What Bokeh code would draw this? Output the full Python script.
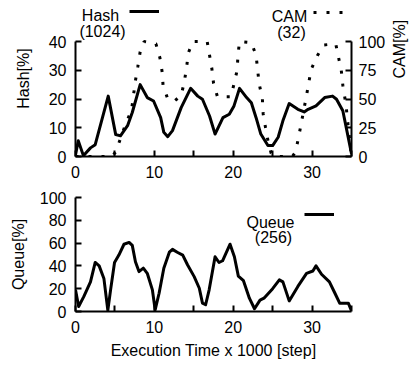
import math
from bokeh.plotting import figure
from bokeh.models import LinearAxis, Range1d, FixedTicker, Label, Legend, LegendItem
from bokeh.layouts import column
from bokeh.embed import file_html
from bokeh.resources import INLINE

# ---------------- data ----------------
hash_x = [0, 0.35, 1.0, 1.9, 2.5, 4.15, 5.1, 5.7, 6.6, 7.2, 8.2, 9.1, 9.9, 10.8, 11.2,
          11.7, 12.3, 13.4, 14.6, 15.5, 16.1, 17.0, 17.7, 18.7, 19.5, 20.1, 20.8, 21.7,
          22.3, 22.9, 23.5, 24.4, 25.0, 25.7, 26.3, 27.1, 28.2, 29.0, 29.5, 30.5, 31.6,
          32.6, 33.1, 33.9, 35.0]
hash_y = [0.5, 5.5, 0.3, 3.0, 4.1, 21.0, 7.6, 7.2, 10.7, 15.3, 25.0, 20.5, 19.3, 13.5, 8.4,
          6.9, 9.0, 17.0, 23.7, 21.0, 19.9, 14.1, 7.8, 13.5, 14.7, 17.6, 23.7, 20.5,
          18.7, 13.5, 7.8, 3.8, 3.8, 6.7, 12.4, 18.4, 16.4, 15.5, 16.4, 17.6, 20.5,
          21.0, 19.9, 15.9, 1.0]

cam_x = [0, 4.6, 5.1, 6.4, 7.1, 7.6, 7.9, 8.2, 8.7, 10.2, 10.7, 11.0, 11.1, 11.7, 12.5,
         13.4, 13.8, 14.1, 14.3, 14.9, 16.7, 17.0, 17.3, 17.5, 18.0, 19.7, 20.1, 20.5,
         20.6, 20.8, 22.3, 22.9, 23.1, 23.3, 23.7, 23.8, 24.1, 24.4, 24.8, 25.2, 27.5,
         27.9, 28.3, 28.6, 29.3, 29.6, 29.9, 30.7, 31.5, 33.0, 33.3, 33.7, 33.9, 34.3,
         34.6, 35.0]
cam_y = [0, 0, 4, 29, 40, 66, 78, 91, 100, 98, 86, 73, 62, 50, 48,
         53, 65, 78, 90, 100, 100, 88, 76, 64, 52, 52, 63, 75,
         88, 100, 99, 88, 75, 63, 50, 37, 25, 14, 3, 0, 0,
         4, 17, 28, 53, 65, 76, 88, 97, 98, 88, 75, 62, 45,
         25, 0]

queue_x = [0, 0.4, 1.05, 1.9, 2.5, 3.0, 3.6, 4.1, 4.45, 4.95, 5.5, 6.15, 6.8, 7.2, 7.6,
           8.05, 8.6, 9.1, 9.75, 10.1, 10.6, 11.2, 11.9, 12.3, 12.9, 13.6, 14.2, 15.05,
           15.7, 16.1, 16.5, 16.95, 17.7, 18.2, 18.65, 19.6, 20.15, 20.65, 21.3, 22.05,
           22.7, 23.4, 23.9, 25.0, 25.85, 26.3, 27.1, 28.2, 29.3, 30.1, 30.5, 31.2, 32.2,
           32.9, 33.5, 34.6, 35.0]
queue_y = [19, 4.4, 13, 26, 43, 40, 29, 1, 19, 43, 49.5, 59, 60.6, 58, 43.7,
           35, 38, 33.5, 19, 1.5, 16, 38, 52, 54.5, 52, 49.5, 41, 30.6,
           20.4, 7.3, 5.9, 19, 48, 43, 44.5, 59, 48, 31, 27, 11.7,
           2.4, 10, 11.7, 20, 27.7, 26, 9.3, 22, 33.5, 35.5, 40, 32.7, 26,
           16, 7.3, 7.3, 0.6]

x_ticks = [0, 10, 20, 30]
x_minor = [5, 15, 25, 35]
hash_ticks = [0, 10, 20, 30, 40]
cam_ticks = [0, 25, 50, 75, 100]
queue_ticks = [0, 20, 40, 60, 80, 100]
HASH_MAX = 40
CAM_MAX = 100

FONT = "Liberation Sans"
FS = "16px"

# top frame is taller than the 0..40 axis so that the key fits inside it
TOP_FRAME_H = 156
AXIS_H = 115
top_scale = TOP_FRAME_H / AXIS_H


def style_axis(ax, ticks, minor=None, standoff=10, label_standoff=10):
    ax.ticker = FixedTicker(ticks=ticks, minor_ticks=minor or [])
    ax.axis_line_width = 2
    ax.axis_line_color = "black"
    ax.major_tick_in = 6
    ax.major_tick_out = 0
    ax.minor_tick_in = 6 if minor else 0
    ax.minor_tick_out = 0
    ax.major_tick_line_width = 2
    ax.minor_tick_line_width = 2
    ax.major_tick_line_color = "black"
    ax.minor_tick_line_color = "black"
    ax.major_label_text_font = FONT
    ax.major_label_text_font_size = FS
    ax.major_label_text_color = "black"
    ax.major_label_standoff = standoff
    ax.axis_label_text_font = FONT
    ax.axis_label_text_font_size = FS
    ax.axis_label_text_font_style = "normal"
    ax.axis_label_text_color = "black"
    ax.axis_label_standoff = label_standoff


def sample_legend(renderer, x, y):
    return Legend(items=[LegendItem(label=" ", renderers=[renderer])],
                  location=(x, y), padding=0, margin=0, spacing=0,
                  glyph_width=30, glyph_height=10, label_width=0, label_height=10,
                  label_standoff=0, label_text_font_size="1px",
                  border_line_color=None, background_fill_alpha=0)


def text_label(x, y, t):
    return Label(x=x, y=y, x_units="screen", y_units="screen", text=t,
                 text_align="center", text_baseline="alphabetic",
                 text_font=FONT, text_font_size=FS, text_color="black")


# ---------------- top plot ----------------
p1 = figure(frame_width=276, frame_height=TOP_FRAME_H,
            x_range=Range1d(0, 35), y_range=Range1d(0, HASH_MAX * top_scale),
            output_backend="svg", toolbar_location=None,
            min_border_left=75, min_border_right=62, min_border_top=0, min_border_bottom=30)
p1.extra_y_ranges = {"cam": Range1d(0, CAM_MAX * top_scale)}
p1.outline_line_color = None
p1.xgrid.visible = False
p1.ygrid.visible = False
p1.yaxis.axis_label = "Hash[%]"
p1.yaxis.bounds = (0, HASH_MAX)
style_axis(p1.xaxis[0], x_ticks, x_minor, 9, 6)
style_axis(p1.yaxis[0], hash_ticks, None, 9, 14)
cam_axis = LinearAxis(y_range_name="cam", axis_label="CAM[%]", bounds=(0, CAM_MAX))
style_axis(cam_axis, cam_ticks, None, 7, 11)
cam_axis.axis_label_orientation = math.pi / 2
p1.add_layout(cam_axis, "right")

r_hash = p1.line(hash_x, hash_y, line_width=3, line_color="black", line_join="round")
r_cam = p1.line(cam_x, cam_y, y_range_name="cam", line_width=3, line_color="black",
                line_dash="3 10")

p1.add_layout(sample_legend(r_hash, 54, 140))
p1.add_layout(sample_legend(r_cam, 238, 139))
p1.add_layout(text_label(25, 141, "Hash"))
p1.add_layout(text_label(27, 125, "(1024)"))
p1.add_layout(text_label(214, 140, "CAM"))
p1.add_layout(text_label(216, 124, "(32)"))

# ---------------- bottom plot ----------------
p2 = figure(frame_width=276, frame_height=114, x_range=Range1d(0, 35), y_range=Range1d(0, 100),
            output_backend="svg", toolbar_location=None,
            min_border_left=75, min_border_right=62, min_border_top=11, min_border_bottom=52)
p2.outline_line_color = None
p2.xgrid.visible = False
p2.ygrid.visible = False
p2.yaxis.axis_label = "Queue[%]"
p2.xaxis.axis_label = "Execution Time x 1000 [step]"
style_axis(p2.xaxis[0], x_ticks, x_minor, 9, 6)
style_axis(p2.yaxis[0], queue_ticks, None, 9, 10)

r_queue = p2.line(queue_x, queue_y, line_width=3, line_color="black", line_join="round")
p2.add_layout(sample_legend(r_queue, 229, 92))
p2.add_layout(text_label(195, 89, "Queue"))
p2.add_layout(text_label(198, 74, "(256)"))

layout = column(p1, p2, spacing=0)
open("out.html", "w").write(file_html(layout, INLINE))
